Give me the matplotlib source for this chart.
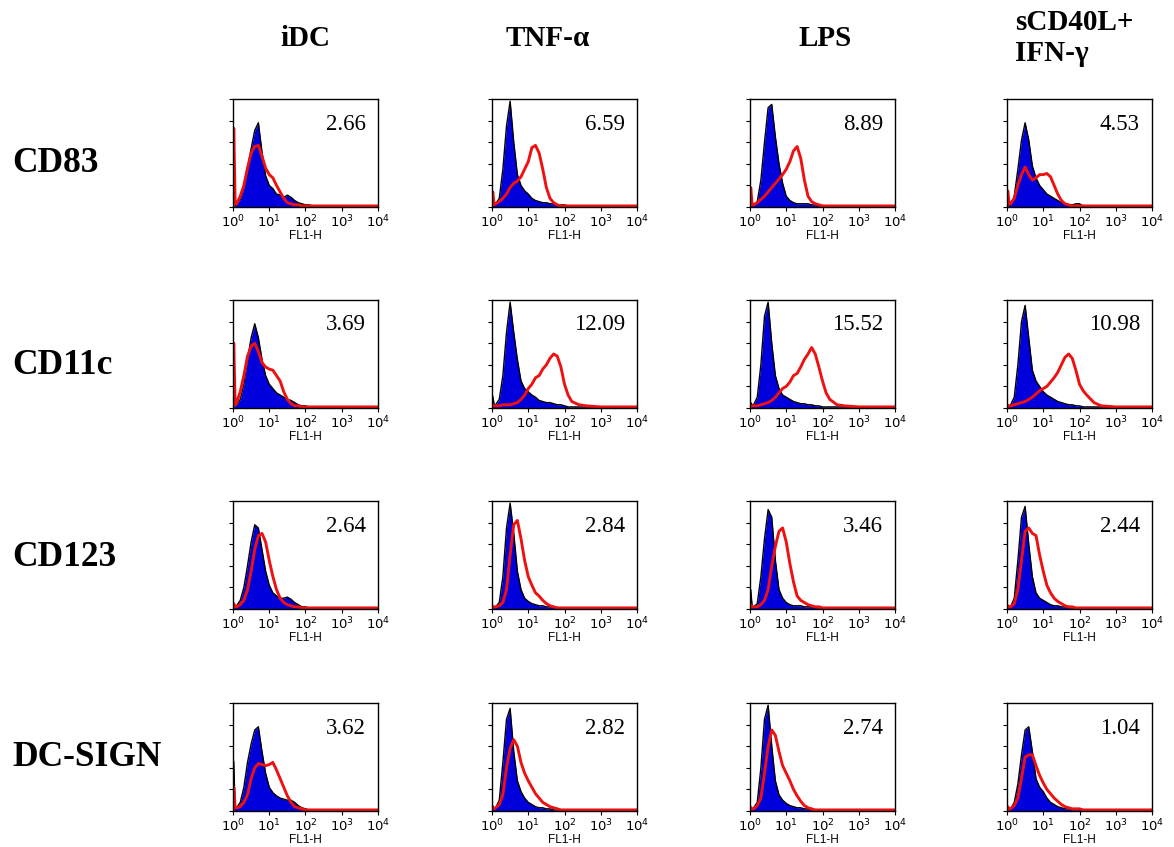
import numpy as np
import matplotlib
matplotlib.use('Agg')
import matplotlib.pyplot as plt

# channel positions (log10 of FL1-H) shared by every histogram
log_fl1 = [0, 0.02, 0.06, 0.1, 0.2, 0.3, 0.4, 0.5, 0.6, 0.7, 0.8, 0.9, 1.0, 1.1, 1.2, 1.3,
           1.4, 1.5, 1.6, 1.7, 1.8, 1.9, 2.0, 2.1, 2.2, 2.4, 2.6, 3.0, 3.5, 4.0]

conditions = ['iDC', 'TNF-α', 'LPS', 'sCD40L+\nIFN-γ']
markers = ['CD83', 'CD11c', 'CD123', 'DC-SIGN']

# MFI ratios printed in each panel (rows = markers, cols = conditions)
cd83_vals = ['2.66', '6.59', '8.89', '4.53']
cd11c_vals = ['3.69', '12.09', '15.52', '10.98']
cd123_vals = ['2.64', '2.84', '3.46', '2.44']
dcsign_vals = ['3.62', '2.82', '2.74', '1.04']

# isotype control (blue, filled) and specific stain (red) counts, % of max
cd83_idc_iso = [0, 0, 1, 3, 7, 17, 36, 54, 71, 78, 51, 29, 20, 17, 12, 11, 9, 11, 9, 6, 4, 3, 2, 2, 1, 1, 1, 1, 1, 1]
cd83_idc_ab = [0, 73, 3, 3, 10, 20, 36, 50, 56, 57, 47, 36, 30, 27, 20, 14, 8, 4, 3, 2, 2, 1, 1, 1, 1, 1, 1, 1, 1, 1]
cd83_tnf_iso = [0, 5, 3, 3, 8, 35, 75, 98, 60, 30, 20, 15, 12, 8, 6, 5, 4, 4, 3, 3, 2, 2, 2, 1, 1, 1, 1, 1, 1, 1]
cd83_tnf_ab = [0, 14, 2, 3, 5, 8, 12, 18, 22, 24, 28, 35, 42, 55, 57, 50, 35, 18, 8, 4, 2, 1, 1, 1, 1, 1, 1, 1, 1, 1]
cd83_lps_iso = [0, 3, 2, 2, 5, 25, 60, 92, 95, 65, 40, 22, 10, 6, 4, 3, 3, 3, 3, 2, 2, 1, 1, 1, 1, 1, 1, 1, 1, 1]
cd83_lps_ab = [0, 18, 2, 2, 4, 7, 10, 14, 18, 22, 26, 30, 35, 42, 52, 56, 45, 25, 10, 5, 3, 2, 1, 1, 1, 1, 1, 1, 1, 1]
cd83_cd40_iso = [0, 1, 1, 2, 10, 35, 62, 78, 62, 38, 27, 20, 16, 12, 10, 8, 6, 4, 3, 2, 2, 3, 3, 1, 1, 1, 1, 1, 1, 1]
cd83_cd40_ab = [0, 15, 3, 3, 8, 20, 30, 37, 30, 25, 27, 30, 30, 31, 28, 20, 12, 6, 3, 2, 1, 1, 1, 1, 1, 1, 1, 1, 1, 1]

cd11c_idc_iso = [0, 2, 2, 3, 8, 22, 45, 65, 78, 65, 45, 30, 22, 18, 14, 12, 10, 8, 7, 5, 3, 2, 2, 1, 1, 1, 1, 1, 1, 1]
cd11c_idc_ab = [0, 60, 3, 5, 15, 30, 48, 57, 60, 52, 42, 38, 36, 35, 30, 25, 15, 8, 4, 2, 2, 1, 1, 1, 1, 1, 1, 1, 1, 1]
cd11c_tnf_iso = [0, 11, 3, 3, 8, 30, 70, 98, 70, 45, 25, 18, 15, 12, 10, 7, 6, 5, 5, 4, 3, 3, 2, 1, 1, 1, 1, 1, 1, 1]
cd11c_tnf_ab = [0, 3, 2, 2, 2, 3, 3, 3, 4, 5, 8, 12, 18, 22, 28, 30, 36, 40, 46, 50, 48, 38, 22, 12, 6, 3, 2, 1, 1, 1]
cd11c_lps_iso = [0, 5, 3, 3, 10, 40, 85, 98, 60, 30, 18, 12, 10, 8, 6, 5, 4, 4, 3, 3, 2, 2, 1, 1, 1, 1, 1, 1, 1, 1]
cd11c_lps_ab = [0, 2, 2, 2, 2, 3, 4, 5, 7, 10, 14, 18, 20, 24, 30, 32, 38, 45, 50, 56, 50, 38, 25, 14, 8, 3, 2, 1, 1, 1]
cd11c_cd40_iso = [0, 3, 2, 3, 10, 40, 80, 95, 65, 35, 25, 20, 15, 12, 10, 8, 6, 5, 4, 3, 3, 2, 2, 1, 1, 1, 1, 1, 1, 1]
cd11c_cd40_ab = [0, 2, 2, 2, 3, 4, 5, 6, 8, 10, 13, 16, 18, 20, 24, 28, 33, 40, 47, 50, 46, 35, 22, 16, 12, 5, 2, 1, 1, 1]

cd123_idc_iso = [0, 2, 2, 3, 8, 20, 40, 62, 78, 75, 55, 35, 22, 15, 12, 10, 10, 11, 9, 6, 4, 2, 2, 1, 1, 1, 1, 1, 1, 1]
cd123_idc_ab = [0, 5, 2, 2, 4, 8, 18, 35, 55, 68, 70, 62, 45, 30, 18, 10, 6, 4, 3, 2, 2, 1, 1, 1, 1, 1, 1, 1, 1, 1]
cd123_tnf_iso = [0, 3, 2, 2, 6, 30, 75, 98, 70, 35, 18, 10, 7, 5, 4, 3, 3, 2, 2, 2, 1, 1, 1, 1, 1, 1, 1, 1, 1, 1]
cd123_tnf_ab = [0, 2, 2, 2, 3, 6, 18, 50, 78, 82, 65, 45, 30, 22, 15, 12, 8, 5, 3, 2, 1, 1, 1, 1, 1, 1, 1, 1, 1, 1]
cd123_lps_iso = [0, 18, 2, 2, 5, 30, 65, 92, 85, 45, 18, 10, 6, 4, 3, 3, 3, 2, 2, 2, 1, 1, 1, 1, 1, 1, 1, 1, 1, 1]
cd123_lps_ab = [0, 4, 2, 2, 2, 4, 8, 18, 40, 58, 72, 75, 62, 42, 25, 12, 8, 6, 4, 3, 2, 2, 1, 1, 1, 1, 1, 1, 1, 1]
cd123_cd40_iso = [0, 3, 2, 2, 10, 45, 85, 95, 60, 30, 15, 10, 8, 6, 4, 3, 3, 2, 2, 1, 1, 1, 1, 1, 1, 1, 1, 1, 1, 1]
cd123_cd40_ab = [0, 3, 2, 2, 5, 18, 45, 72, 75, 70, 68, 50, 35, 22, 15, 10, 7, 5, 3, 2, 2, 1, 1, 1, 1, 1, 1, 1, 1, 1]

dcsign_idc_iso = [0, 46, 2, 3, 8, 22, 45, 62, 75, 78, 55, 35, 22, 17, 14, 12, 11, 10, 10, 8, 5, 3, 2, 1, 1, 1, 1, 1, 1, 1]
dcsign_idc_ab = [0, 22, 3, 3, 4, 8, 15, 30, 40, 44, 43, 42, 43, 45, 38, 30, 22, 14, 8, 4, 3, 2, 1, 1, 1, 1, 1, 1, 1, 1]
dcsign_tnf_iso = [0, 5, 2, 3, 10, 45, 85, 95, 55, 28, 18, 12, 8, 6, 4, 3, 3, 2, 2, 1, 1, 1, 1, 1, 1, 1, 1, 1, 1, 1]
dcsign_tnf_ab = [0, 3, 2, 3, 6, 15, 40, 58, 66, 60, 45, 35, 28, 22, 16, 12, 8, 6, 4, 3, 2, 1, 1, 1, 1, 1, 1, 1, 1, 1]
dcsign_lps_iso = [0, 4, 2, 3, 8, 40, 85, 98, 60, 28, 15, 10, 7, 5, 4, 3, 3, 2, 2, 1, 1, 1, 1, 1, 1, 1, 1, 1, 1, 1]
dcsign_lps_ab = [0, 3, 2, 2, 5, 12, 35, 60, 75, 70, 55, 42, 35, 28, 20, 14, 9, 5, 3, 2, 1, 1, 1, 1, 1, 1, 1, 1, 1, 1]
dcsign_cd40_iso = [0, 1, 1, 2, 8, 25, 52, 75, 78, 55, 30, 22, 18, 12, 8, 6, 4, 3, 2, 2, 1, 1, 2, 1, 1, 1, 1, 1, 1, 1]
dcsign_cd40_ab = [0, 4, 2, 2, 5, 12, 30, 50, 52, 52, 42, 33, 26, 20, 16, 12, 9, 6, 4, 3, 2, 2, 2, 1, 1, 1, 1, 1, 1, 1]

iso_rows = [[cd83_idc_iso, cd83_tnf_iso, cd83_lps_iso, cd83_cd40_iso],
            [cd11c_idc_iso, cd11c_tnf_iso, cd11c_lps_iso, cd11c_cd40_iso],
            [cd123_idc_iso, cd123_tnf_iso, cd123_lps_iso, cd123_cd40_iso],
            [dcsign_idc_iso, dcsign_tnf_iso, dcsign_lps_iso, dcsign_cd40_iso]]
ab_rows = [[cd83_idc_ab, cd83_tnf_ab, cd83_lps_ab, cd83_cd40_ab],
           [cd11c_idc_ab, cd11c_tnf_ab, cd11c_lps_ab, cd11c_cd40_ab],
           [cd123_idc_ab, cd123_tnf_ab, cd123_lps_ab, cd123_cd40_ab],
           [dcsign_idc_ab, dcsign_tnf_ab, dcsign_lps_ab, dcsign_cd40_ab]]
val_rows = [cd83_vals, cd11c_vals, cd123_vals, dcsign_vals]

W, H = 1174, 847
fig = plt.figure(figsize=(W / 100, H / 100), dpi=100)

col_left = [233, 492, 750, 1007]
row_top = [99, 300, 501, 703]
ax_w, ax_h = 145, 108

serif = 'Liberation Serif'
sans = 'Liberation Sans'
fl1 = 10 ** np.array(log_fl1)

for r in range(4):
    for c in range(4):
        ax = fig.add_axes([col_left[c] / W, 1 - (row_top[r] + ax_h) / H, ax_w / W, ax_h / H])
        iso = iso_rows[r][c]
        ab = ab_rows[r][c]
        ax.fill_between(fl1, 0, iso, color='#0000dd', lw=0)
        ax.plot(fl1, iso, color='black', lw=1.0)
        ax.plot(fl1, ab, color='#ee1111', lw=2.1)
        ax.set_xscale('log')
        ax.set_xlim(1, 1e4)
        ax.set_ylim(0, 100)
        ax.set_xticks([1, 10, 100, 1000, 10000])
        ax.set_xticklabels(['$10^{0}$', '$10^{1}$', '$10^{2}$', '$10^{3}$', '$10^{4}$'],
                           fontsize=9.5)
        ax.set_yticks([0, 20, 40, 60, 80, 100])
        ax.set_yticklabels([])
        ax.tick_params(axis='x', which='major', length=3, width=0.8, pad=1.5)
        ax.tick_params(axis='x', which='minor', length=2, width=0.6, direction='in')
        ax.tick_params(axis='y', length=3, width=0.8)
        ax.set_xlabel('FL1-H', fontsize=8.5, family=sans, labelpad=0)
        for s in ax.spines.values():
            s.set_linewidth(1.0)
        ax.text(1 - 12 / ax_w, 1 - 25 / ax_h, val_rows[r][c], transform=ax.transAxes,
                ha='right', va='center', fontsize=16.5, family=serif)

# column headers
col_cx = [305, 548, 825]
for c in range(3):
    fig.text(col_cx[c] / W, 1 - 38 / H, conditions[c], ha='center', va='center',
             fontsize=21, fontweight='bold', family=serif)
fig.text(1015 / W, 1 - 38 / H, conditions[3], ha='left', va='center',
         fontsize=21, fontweight='bold', family=serif, linespacing=1.2)

# row labels
row_cy = [164, 365, 558, 757]
for r in range(4):
    fig.text(12 / W, 1 - row_cy[r] / H, markers[r], ha='left', va='center',
             fontsize=25.5, fontweight='bold', family=serif)

fig.savefig('out.png', dpi=100)
